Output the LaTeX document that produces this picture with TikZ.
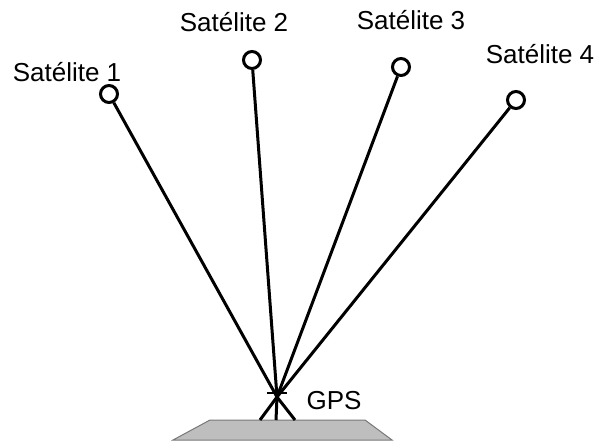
\documentclass[tikz,border=0pt]{standalone}
\usepackage{fontspec}
\setmainfont{Liberation Sans}
\begin{document}
\begin{tikzpicture}[x=1pt,y=-1pt,
  ray/.style={line width=3pt, black},
  sat/.style={circle, draw=black, line width=3pt, fill=white, minimum size=17pt, inner sep=0pt},
  lbl/.style={font=\fontsize{26}{29}\selectfont, inner sep=0pt},
  leg/.style={line width=3pt, black}]
\useasboundingbox (0,0) rectangle (598,444);

% ground plate
\draw[fill={rgb,255:red,190;green,190;blue,190}, draw={rgb,255:red,120;green,120;blue,120}, line width=1pt]
  (210,420) -- (365,420) -- (392,440) -- (173,440) -- cycle;

% receiver position and tripod
\coordinate (gps) at (277,397);
\coordinate (l1) at (260,420);
\coordinate (l2) at (276,420);
\coordinate (l3) at (295,420);
\draw[leg] (gps) -- (l1);
\draw[leg] (gps) -- (l2);
\draw[leg] (gps) -- (l3);
\coordinate (mL) at (267,393);
\coordinate (mR) at (287,393);
\draw[line width=2.5pt] (mL) -- (mR);

% satellites
\node[sat] (s1) at (109,94) {};
\node[sat] (s2) at (252,60) {};
\node[sat] (s3) at (401,67) {};
\node[sat] (s4) at (516,100) {};

% signal paths
\draw[ray] (s1) -- (gps);
\draw[ray] (s2) -- (gps);
\draw[ray] (s3) -- (gps);
\draw[ray] (s4) -- (gps);

% labels
\node[lbl] (t1) at (67,72) {Satélite 1};
\node[lbl] (t2) at (234,22) {Satélite 2};
\node[lbl] (t3) at (411,20) {Satélite 3};
\node[lbl] (t4) at (540,54) {Satélite 4};
\node[lbl] (tg) at (334,401) {GPS};
\end{tikzpicture}
\end{document}
